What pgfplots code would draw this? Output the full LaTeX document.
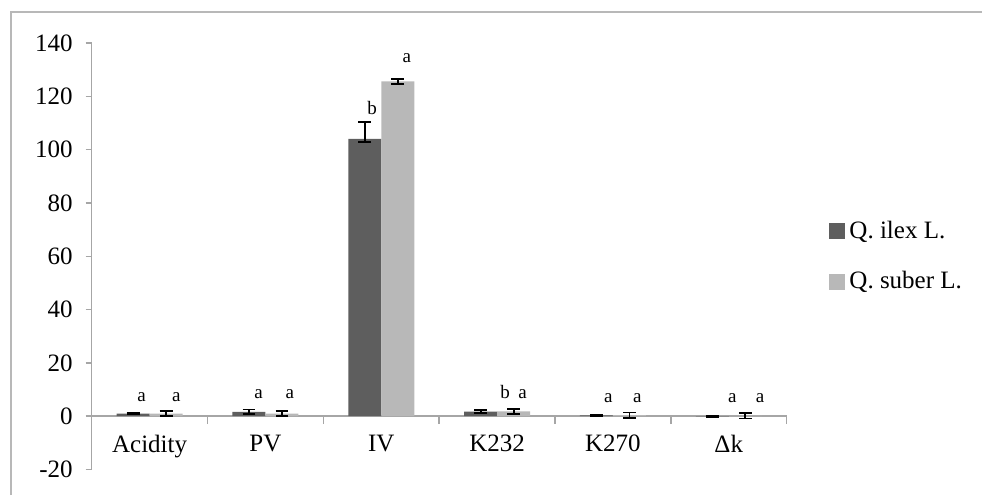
\documentclass[border=0pt]{standalone}
\usepackage{fontspec}
\setmainfont{Liberation Serif}
\usepackage{pgfplots}
\usepackage{pgfplotstable}
\pgfplotsset{compat=1.18}

\definecolor{ilex}{HTML}{5E5E5E}
\definecolor{suber}{HTML}{B8B8B8}
\definecolor{axgray}{HTML}{A6A6A6}

% x, bar centre (for the error bar), mean, error plus, error minus
\pgfplotstableread{
x xe v ep em
0 -0.1424 1.0 0.3 0.3
1 0.8576 1.6 0.9 0.9
2 1.8576 104.0 6.4 1.1
3 2.8576 1.7 0.6 0.6
4 3.8576 0.3 0.2 0.2
5 4.8576 -0.1 0.2 0.2
}\ilexdata

\pgfplotstableread{
x xe v ep em
0 0.1424 1.0 1.0 1.0
1 1.1424 1.0 0.9 0.9
2 2.1424 125.6 0.9 0.9
3 3.1424 1.8 1.0 1.0
4 4.1424 0.4 1.0 1.0
5 5.1424 0.1 1.0 1.0
}\suberdata

% significance letters
\pgfplotstableread{
x y l
-0.07 5.5 a
0.94 6.6 a
1.92 113 b
3.07 6.6 b
3.96 5.2 a
5.03 5.2 a
}\ilexlet

\pgfplotstableread{
x y l
0.23 5.5 a
1.21 6.6 a
2.22 132.8 a
3.22 6.6 a
4.21 5.2 a
5.27 5.2 a
}\suberlet

\begin{document}
\begin{tikzpicture}
\path[use as bounding box] (-45.85pt,-12.75pt) rectangle (445.15pt,234.75pt);
\draw[axgray!80, line width=0.75pt] (-40.35pt,-12.75pt) -- (-40.35pt,228.75pt) -- (445.15pt,228.75pt);
\begin{axis}[
  at={(0,0)}, anchor=south west,
  width=347.5pt, height=213.25pt, scale only axis,
  xmin=-0.5, xmax=5.5, ymin=-20, ymax=140,
  ytick={-20,0,...,140},
  axis y line=left, axis x line=middle,
  axis line style={-, draw=axgray, line width=0.75pt},
  xtick={0,...,5},
  xticklabels={Acidity,PV,IV,K232,K270,Δk},
  minor xtick={-0.5,0.5,...,5.5},
  tick align=outside,
  major x tick style={draw=none},
  minor x tick style={draw=axgray, line width=0.75pt},
  minor tick length=4pt,
  y tick style={draw=axgray, line width=0.75pt},
  major tick length=3pt,
  hide obscured x ticks=false, hide obscured y ticks=false,
  /pgf/number format/assume math mode=true,
  tick label style={font=\fontsize{12.5}{15}\selectfont},
  xticklabel style={yshift=-3pt},
  yticklabel style={xshift=-3pt},
  legend style={at={(1.061,0.4995)}, anchor=west, draw=none, fill=none,
    inner sep=0pt, row sep=11pt, font=\fontsize{12.5}{15}\selectfont,
    /tikz/every odd column/.append style={column sep=0pt}},
  legend cell align=left,
  legend image code/.code={\fill[#1] (0pt,-4pt) rectangle (8pt,4pt);},
  error bars/error bar style={black, line width=0.9pt},
  error bars/error mark options={rotate=90, mark size=3.2pt, line width=0.9pt, black},
]
\addplot[ybar, bar width=16.5pt, bar shift=-8.25pt, fill=ilex, draw=none]
  table[x=x, y=v] {\ilexdata};
\addplot[ybar, bar width=16.5pt, bar shift=8.25pt, fill=suber, draw=none]
  table[x=x, y=v] {\suberdata};
\legend{Q. ilex L., Q. suber L.}

% error bars, at the centre of each bar
\addplot[forget plot, only marks, mark=*, mark size=0pt, mark options={draw=none, fill=none},
  error bars/.cd, y dir=both, y explicit]
  table[x=xe, y=v, y error plus=ep, y error minus=em] {\ilexdata};
\addplot[forget plot, only marks, mark=*, mark size=0pt, mark options={draw=none, fill=none},
  error bars/.cd, y dir=both, y explicit]
  table[x=xe, y=v, y error plus=ep, y error minus=em] {\suberdata};

\addplot[forget plot, only marks, mark=*, mark size=0pt, mark options={draw=none, fill=none},
  nodes near coords, point meta=explicit symbolic,
  every node near coord/.style={anchor=base, inner sep=0pt, font=\fontsize{9.5}{10}\selectfont}]
  table[x=x, y=y, meta=l] {\ilexlet};
\addplot[forget plot, only marks, mark=*, mark size=0pt, mark options={draw=none, fill=none},
  nodes near coords, point meta=explicit symbolic,
  every node near coord/.style={anchor=base, inner sep=0pt, font=\fontsize{9.5}{10}\selectfont}]
  table[x=x, y=y, meta=l] {\suberlet};
\end{axis}
\end{tikzpicture}
\end{document}
